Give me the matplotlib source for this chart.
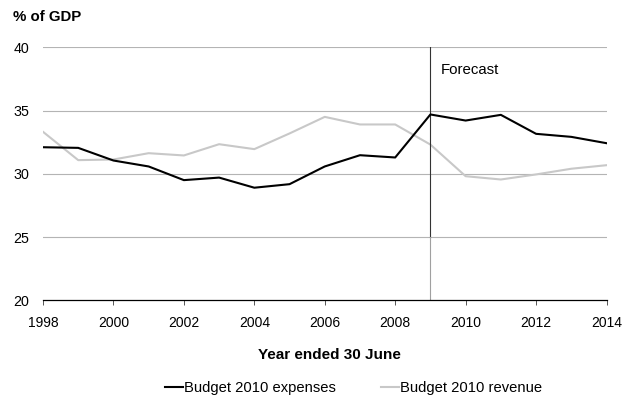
import matplotlib
matplotlib.use("Agg")
import matplotlib.pyplot as plt

plt.rcParams['font.family'] = ['Liberation Sans', 'DejaVu Sans']

years = list(range(1998, 2015))
expenses = [32.1, 32.05, 31.05, 30.58, 29.5, 29.7, 28.9, 29.18, 30.58, 31.47,
            31.29, 34.69, 34.21, 34.66, 33.16, 32.92, 32.42]
revenue = [33.32, 31.08, 31.13, 31.63, 31.45, 32.34, 31.95, 33.19, 34.5, 33.9,
           33.9, 32.31, 29.81, 29.55, 29.95, 30.4, 30.68]
forecast_year = 2009
y_ticks = [20, 25, 30, 35, 40]
x_ticks = list(range(1998, 2015, 2))

fig = plt.figure(figsize=(6.3, 3.99), dpi=100)
ax = fig.add_axes([43 / 630, 1 - 300.3 / 399, (606.5 - 43) / 630, (300.3 - 47.3) / 399])

ax.set_xlim(1998, 2014)
ax.set_ylim(20, 40)

for y in y_ticks[1:]:
    ax.axhline(y, color='#b4b4b4', lw=0.8, zorder=1)

ax.plot(years, expenses, color='black', lw=1.5, label='Budget 2010 expenses', zorder=3)
ax.plot(years, revenue, color='#c8c8c8', lw=1.5, label='Budget 2010 revenue', zorder=2)

# forecast divider
ax.plot([forecast_year, forecast_year], [25, 40], color='#333333', lw=0.8, zorder=2)
ax.plot([forecast_year, forecast_year], [20, 25], color='#a0a0a0', lw=0.8, zorder=2)
ax.text(forecast_year + 0.28, 38.2, 'Forecast', fontsize=10.8, va='center', ha='left')

for s in ['left', 'right', 'top']:
    ax.spines[s].set_visible(False)
ax.spines['bottom'].set_color('black')
ax.spines['bottom'].set_linewidth(0.9)
ax.spines['bottom'].set_zorder(4)

ax.set_yticks(y_ticks)
ax.set_yticklabels([str(v) for v in y_ticks])
ax.tick_params(axis='y', length=0, pad=10, labelsize=10.3)
ax.set_xticks(x_ticks)
ax.set_xticklabels([str(v) for v in x_ticks])
ax.tick_params(axis='x', direction='out', length=3.5, width=0.7, color='#555555',
               pad=8, labelsize=10)

fig.text(13 / 630, 1 - 17 / 399, '% of GDP', fontsize=10.8, fontweight='bold',
         ha='left', va='center')
fig.text(329 / 630, 1 - 355 / 399, 'Year ended 30 June', fontsize=11, fontweight='bold',
         ha='center', va='center')

fig.legend(loc='center', bbox_to_anchor=(353.5 / 630, 1 - 388 / 399), ncol=2, frameon=False,
           fontsize=10.6, handlelength=1.2, handletextpad=0.05, columnspacing=3.1,
           borderaxespad=0, borderpad=0)

fig.savefig('out.png', dpi=100)
